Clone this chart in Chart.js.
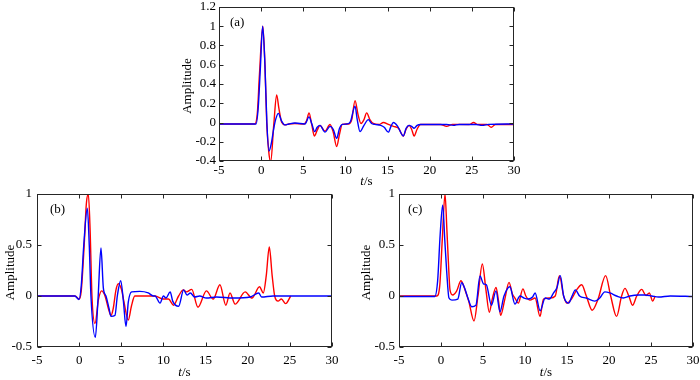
<!DOCTYPE html>
<html lang="en">

<head>
    <meta charset="UTF-8" />
    <title>Amplitude - t/s</title>
    <script src="https://cdn.jsdelivr.net/npm/chart.js"></script>
    <style>
        body { margin: 0; background: #fff; }
        #wrap { position: relative; width: 700px; height: 380px; overflow: hidden; }
        canvas { position: absolute; }
    </style>
</head>

<body>
    <div id="wrap">
        <canvas id="chartA" width="400" height="195" style="left:150px;top:0"></canvas>
        <canvas id="chartB" width="350" height="200" style="left:0;top:180px"></canvas>
        <canvas id="chartC" width="350" height="200" style="left:350px;top:180px"></canvas>
    </div>

    <script>
        // shared axes
        const xTicks = [-5, 0, 5, 10, 15, 20, 25, 30];
        const yRangeA = [-0.4, 1.2, 0.2];
        const yRangeBC = [-0.5, 1, 0.5];

        // panel (a)
        const tA_red = [
            -5, -0.75, -0.45, -0.2, 0.2, 0.45, 0.66, 0.9, 1.13, 1.5,
            1.84, 2.1, 2.45, 2.85, 3.3, 4.0, 5.1, 5.4, 5.68, 6.0,
            6.31, 6.65, 6.98, 7.58, 8.17, 8.55, 8.96, 9.3, 9.62, 10.4,
            10.75, 11.14, 11.5, 11.85, 12.2, 12.52, 12.9, 13.3, 14.0, 14.5,
            15.1, 15.7, 16.3, 16.87, 17.2, 17.55, 17.85, 18.15, 18.5, 18.9,
            21.3, 22.0, 22.7, 24.7, 25.2, 25.7, 26.8, 27.3, 27.8, 30
        ];
        const ampA_red = [
            -0.015, -0.015, 0.1, 0.5, 1.0, 0.6, 0.0, -0.3, -0.41, -0.02,
            0.286, 0.15, 0.0, -0.025, -0.015, -0.01, -0.015, 0.02, 0.10, -0.02,
            -0.14, -0.08, -0.03, -0.09, -0.02, -0.1, -0.25, -0.12, -0.02, -0.015,
            0.03, 0.227, 0.08, -0.01, 0.03, 0.10, 0.03, -0.01, -0.02, 0.0,
            -0.02, -0.04, -0.06, -0.14, -0.07, -0.03, -0.07, -0.14, -0.07, -0.02,
            -0.02, -0.04, -0.02, -0.02, 0.0, -0.02, -0.02, -0.05, -0.02, -0.02
        ];
        const tA_blue = [
            -5, -0.6, -0.35, -0.1, 0.18, 0.45, 0.68, 0.93, 1.2, 1.5,
            1.75, 2.04, 2.4, 2.8, 3.3, 4.0, 5.2, 5.68, 6.0, 6.35,
            6.65, 6.98, 7.58, 8.17, 8.55, 8.96, 9.3, 9.62, 10.2, 10.6,
            11.14, 11.4, 11.73, 12.2, 12.72, 13.1, 13.5, 14.2, 14.6, 15.1,
            15.4, 15.7, 16.2, 16.87, 17.2, 17.55, 17.85, 18.15, 18.5, 18.9,
            22.0, 22.8, 23.5, 25.5, 26.2, 27.0, 30
        ];
        const ampA_blue = [
            -0.015, -0.015, 0.15, 0.55, 1.0, 0.6, 0.0, -0.296, -0.22, -0.06,
            0.04, 0.095, 0.02, -0.025, -0.015, -0.005, -0.015, 0.058, -0.01, -0.095,
            -0.05, -0.03, -0.1, -0.04, -0.07, -0.165, -0.06, -0.02, -0.015, 0.01,
            0.17, 0.03, -0.095, -0.03, 0.03, -0.01, -0.02, -0.03, -0.05, -0.1,
            -0.04, 0.0, -0.04, -0.14, -0.06, -0.03, -0.04, -0.06, -0.03, -0.02,
            -0.02, -0.03, -0.02, -0.02, -0.03, -0.02, -0.015
        ];

        // panel (b)
        const tB_red = [
            -5, -0.5, 0.0, 0.25, 0.6, 0.85, 1.09, 1.3, 1.52, 1.88,
            2.3, 2.67, 3.07, 3.46, 3.78, 4.05, 4.37, 4.65, 5.04, 5.3,
            5.83, 6.2, 6.6, 9.0, 10.0, 10.6, 11.2, 11.8, 12.36, 12.75,
            13.35, 14.1, 15.1, 15.9, 16.7, 17.4, 17.9, 18.5, 19.7, 20.5,
            21.4, 21.85, 22.2, 22.56, 22.9, 23.2, 23.6, 24.0, 24.5, 25.1
        ];
        const ampB_red = [
            0, 0, -0.03, 0.05, 0.5, 0.9, 1.0, 0.65, 0.0, -0.27,
            -0.03, 0.05, 0.0, -0.12, -0.19, -0.12, 0.06, 0.12, 0.06, -0.05,
            -0.235, -0.1, 0.0, 0.0, -0.03, -0.03, -0.09, 0.0, 0.06, 0.04,
            0.065, -0.11, 0.05, -0.03, 0.11, -0.09, 0.03, -0.08, 0.04, -0.02,
            0.09, 0.03, 0.2, 0.48, 0.2, 0.0, -0.05, -0.03, -0.075, 0.0
        ];
        const tB_blue = [
            -5, -0.5, -0.02, 0.25, 0.55, 0.97, 1.2, 1.4, 1.92, 2.24,
            2.59, 2.87, 3.18, 3.54, 3.78, 4.25, 4.53, 4.93, 5.24, 5.56,
            5.83, 6.23, 7.2, 8.2, 8.8, 9.0, 9.6, 10.0, 10.3, 10.8,
            11.1, 11.8, 12.4, 12.8, 13.2, 13.7, 14.3, 15.1, 16.3, 18.3,
            20.3, 21.3, 21.65, 23, 30
        ];
        const ampB_blue = [
            0, 0, -0.035, 0.1, 0.5, 0.86, 0.5, 0.0, -0.405, -0.03,
            0.47, 0.08, 0.0, -0.12, -0.2, -0.19, 0.0, 0.15, -0.04, -0.30,
            -0.06, 0.04, 0.045, 0.03, 0.0, 0.0, -0.07, 0.0, -0.02, 0.04,
            -0.05, -0.1, 0.06, 0.01, 0.03, -0.01, 0.0, -0.02, -0.01, -0.02,
            -0.01, 0.03, -0.01, 0, 0
        ];

        // panel (c)
        const tC_red = [
            -5, -0.5, -0.15, 0.15, 0.48, 0.7, 0.87, 1.07, 1.39, 1.87,
            2.38, 2.9, 3.3, 3.93, 4.4, 4.92, 5.35, 5.75, 6.1, 6.55,
            6.85, 7.1, 7.6, 8.1, 8.5, 8.8, 9.2, 9.75, 10.1, 10.6,
            11.2, 11.79, 12.2, 13.0, 13.6, 14.1, 14.6, 15.0, 15.6, 16.15,
            16.75, 17.3, 18.0, 18.7, 19.6, 20.2, 20.9, 21.5, 21.9, 22.4,
            22.8, 23.3, 23.9, 24.4, 24.8, 25.2, 25.5
        ];
        const ampC_red = [
            0, 0, 0.1, 0.55, 1.0, 0.65, 0.35, 0.06, 0.01, 0.05,
            0.15, 0.05, -0.05, -0.245, 0.0, 0.314, 0.06, -0.16, -0.03, 0.085,
            -0.05, -0.19, -0.03, 0.134, 0.02, -0.02, -0.07, 0.07, 0.0, -0.04,
            -0.02, -0.2, -0.03, -0.02, 0.0, 0.2, 0.0, -0.07, -0.02, 0.06,
            0.11, 0.0, -0.14, -0.03, 0.2, 0.0, -0.2, 0.0, 0.075, -0.01,
            -0.09, 0.0, 0.065, 0.005, 0.03, -0.05, 0.0
        ];
        const tC_blue = [
            -5, -0.75, -0.4, -0.1, 0.2, 0.45, 0.67, 0.95, 1.3, 2.0,
            2.46, 2.8, 3.2, 3.65, 4.16, 4.64, 5.05, 5.4, 6.0, 6.55,
            7.02, 7.5, 8.2, 8.8, 9.4, 9.9, 10.4, 10.9, 11.2, 11.8,
            12.4, 12.9, 13.4, 13.8, 14.2, 14.6, 15.2, 15.6, 16.0, 16.5,
            17.3, 18.3, 18.9, 19.5, 20.1, 20.9, 21.7, 22.5, 23.5, 24.3,
            25.1, 25.9, 27.3, 30
        ];
        const ampC_blue = [
            -0.005, -0.005, 0.15, 0.6, 0.89, 0.55, 0.25, -0.02, -0.04, -0.03,
            0.13, 0.08, -0.02, -0.105, -0.09, 0.196, 0.12, 0.11, -0.09, 0.05,
            -0.155, 0.0, 0.09, -0.08, 0.0, -0.02, -0.03, -0.01, 0.03, -0.145,
            -0.02, -0.03, 0.03, 0.08, 0.2, 0.0, -0.07, 0.0, 0.06, 0.0,
            -0.02, -0.05, -0.02, 0.04, 0.03, 0.0, -0.02, 0.0, 0.01, 0.01,
            0.0, -0.01, 0.0, -0.005
        ];

        const FONT = '"Liberation Serif", "Times New Roman", serif';

        function pts(ts, ys) {
            return ts.map((t, i) => ({ x: t, y: ys[i] }));
        }

        // box, inward ticks, panel letter and axis titles (MATLAB look)
        const frame = {
            id: 'frame',
            afterDraw(chart, args, o) {
                const { ctx, chartArea: a, scales } = chart;
                const L = Math.round(a.left) + 0.5, R = Math.round(a.right) - 0.5;
                const T = Math.round(a.top) + 0.5, B = Math.round(a.bottom) - 0.5;
                ctx.save();
                ctx.strokeStyle = '#262626';
                ctx.lineWidth = 1;
                ctx.beginPath();
                scales.x.ticks.forEach(tk => {
                    const px = Math.round(scales.x.getPixelForValue(tk.value)) + 0.5;
                    ctx.moveTo(px, B); ctx.lineTo(px, B - 4);
                    ctx.moveTo(px, T); ctx.lineTo(px, T + 4);
                });
                scales.y.ticks.forEach(tk => {
                    const py = Math.round(scales.y.getPixelForValue(tk.value)) + 0.5;
                    ctx.moveTo(L, py); ctx.lineTo(L + 4, py);
                    ctx.moveTo(R, py); ctx.lineTo(R - 4, py);
                });
                ctx.stroke();
                ctx.strokeRect(L, T, R - L, B - T);

                ctx.fillStyle = '#000';
                ctx.font = '13px ' + FONT;
                ctx.textBaseline = 'middle';
                ctx.textAlign = 'left';
                ctx.fillText(o.letter, a.left + o.letterDx, a.top + 16);

                // y title
                ctx.save();
                ctx.translate(a.left - o.yTitleDx, (a.top + a.bottom) / 2 + 2);
                ctx.rotate(-Math.PI / 2);
                ctx.textAlign = 'center';
                ctx.fillText('Amplitude', 0, 0);
                ctx.restore();

                // x title: italic t + "/s"
                const cx = (a.left + a.right) / 2;
                const ty = a.bottom + o.xTitleDy;
                ctx.font = 'italic 13px ' + FONT;
                const w1 = ctx.measureText('t').width;
                ctx.font = '13px ' + FONT;
                const w2 = ctx.measureText('/s').width;
                const x0 = cx - (w1 + w2) / 2;
                ctx.font = 'italic 13px ' + FONT;
                ctx.fillText('t', x0, ty);
                ctx.font = '13px ' + FONT;
                ctx.fillText('/s', x0 + w1, ty);
                ctx.restore();
            }
        };

        function panel(id, yr, red, blue, lay) {
            const fmt = v => String(+Number(v).toFixed(1));
            return new Chart(document.getElementById(id), {
                type: 'line',
                data: {
                    datasets: [
                        { data: blue, borderColor: '#0000ff', borderWidth: 1.4 },
                        { data: red, borderColor: '#ff0000', borderWidth: 1.4 }
                    ]
                },
                options: {
                    responsive: false,
                    animation: false,
                    events: [],
                    layout: { padding: { top: lay.top, right: lay.right, left: 0, bottom: 0 } },
                    elements: {
                        point: { radius: 0 },
                        line: { cubicInterpolationMode: 'monotone', fill: false }
                    },
                    plugins: {
                        legend: { display: false },
                        tooltip: { enabled: false },
                        frame: lay
                    },
                    scales: {
                        x: {
                            type: 'linear',
                            min: xTicks[0],
                            max: xTicks[xTicks.length - 1],
                            grid: { display: false, drawTicks: false },
                            border: { display: false },
                            afterBuildTicks: s => { s.ticks = xTicks.map(v => ({ value: v })); },
                            ticks: {
                                padding: lay.xPad,
                                maxRotation: 0,
                                color: '#000',
                                font: { family: FONT, size: 13 },
                                callback: v => String(v)
                            },
                            afterFit: s => { s.height = lay.xH; s.paddingLeft = 0; s.paddingRight = 0; }
                        },
                        y: {
                            min: yr[0],
                            max: yr[1],
                            grid: { display: false, drawTicks: false },
                            border: { display: false },
                            ticks: {
                                stepSize: yr[2],
                                padding: lay.yPad,
                                color: '#000',
                                font: { family: FONT, size: 13 },
                                callback: fmt
                            },
                            afterFit: s => { s.width = lay.yW; s.paddingTop = 0; s.paddingBottom = 0; }
                        }
                    }
                },
                plugins: [frame]
            });
        }

        panel('chartA', yRangeA, pts(tA_red, ampA_red), pts(tA_blue, ampA_blue),
            { letter: '(a)', letterDx: 11, top: 7, right: 36, yW: 69, xH: 34, xPad: 2, yPad: 3, yTitleDx: 31, xTitleDy: 21 });
        panel('chartB', yRangeBC, pts(tB_red, ampB_red), pts(tB_blue, ampB_blue),
            { letter: '(b)', letterDx: 13, top: 14, right: 18, yW: 37, xH: 33, xPad: 6, yPad: 5, yTitleDx: 26, xTitleDy: 26 });
        panel('chartC', yRangeBC, pts(tC_red, ampC_red), pts(tC_blue, ampC_blue),
            { letter: '(c)', letterDx: 9, top: 14, right: 7, yW: 49, xH: 33, xPad: 6, yPad: 4, yTitleDx: 32, xTitleDy: 26 });
    </script>
</body>

</html>
